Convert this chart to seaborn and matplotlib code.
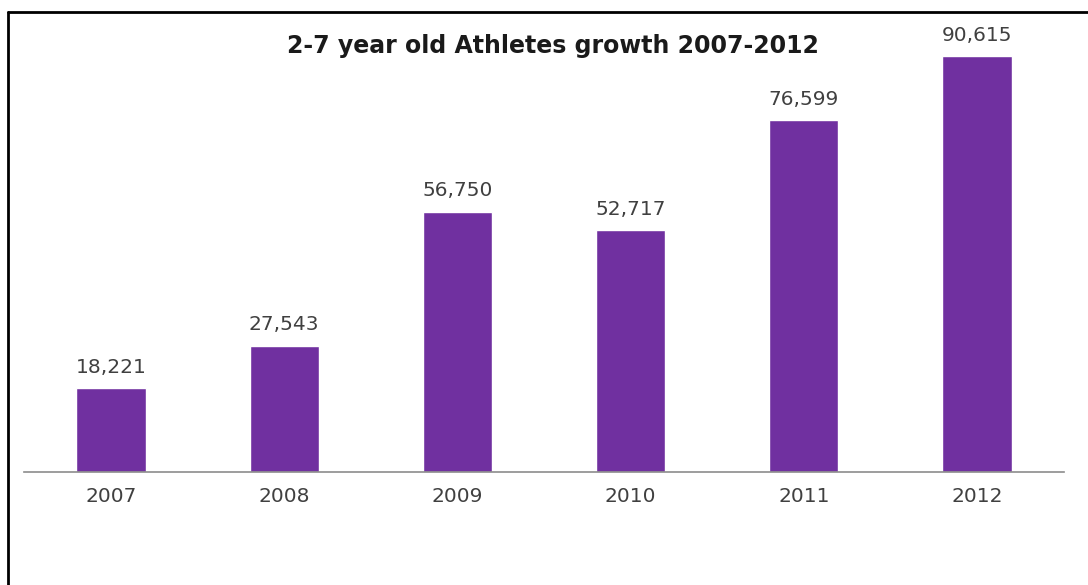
import matplotlib
matplotlib.use("Agg")
import matplotlib.pyplot as plt
from matplotlib.lines import Line2D
import seaborn as sns
import pandas as pd

years = ["2007", "2008", "2009", "2010", "2011", "2012"]
athletes = [18221, 27543, 56750, 52717, 76599, 90615]

df = pd.DataFrame({"year": years, "athletes": athletes})

sns.set_theme(style="white")
plt.rcParams["font.family"] = ["DejaVu Sans"]

fig = plt.figure(figsize=(10.88, 5.85), dpi=100)
ax = fig.add_axes([0.0224, 0.1932, 0.9552, 0.7846])

sns.barplot(data=df, x="year", y="athletes", color="#7030A0", saturation=1,
            width=0.4, ax=ax)

ax.set_xlim(-0.5, 5.5)
ax.set_ylim(0, 100000)

for i, v in enumerate(athletes):
    ax.text(i, v + 2500, f"{v:,}", ha="center", va="bottom",
            fontsize=14.5, color="#404040")

for s in ["top", "right", "left"]:
    ax.spines[s].set_visible(False)
ax.spines["bottom"].set_color("#8c8c8c")
ax.spines["bottom"].set_linewidth(1.2)
ax.set_yticks([])
ax.set_xlabel("")
ax.set_ylabel("")
ax.tick_params(axis="x", length=0, labelsize=14.5, labelcolor="#404040", pad=11)

fig.text(0.508, 0.922, "2-7 year old Athletes growth 2007-2012",
         ha="center", va="center", fontsize=17, fontweight="bold",
         color="#1a1a1a")

# outer frame (left and top edges)
fig.add_artist(Line2D([7.5 / 1088, 7.5 / 1088], [0, 1 - 11.5 / 585],
                      transform=fig.transFigure, color="black", lw=2))
fig.add_artist(Line2D([7.5 / 1088, 1], [1 - 11.5 / 585, 1 - 11.5 / 585],
                      transform=fig.transFigure, color="black", lw=2))

fig.savefig("out.png", dpi=100, facecolor="white")
